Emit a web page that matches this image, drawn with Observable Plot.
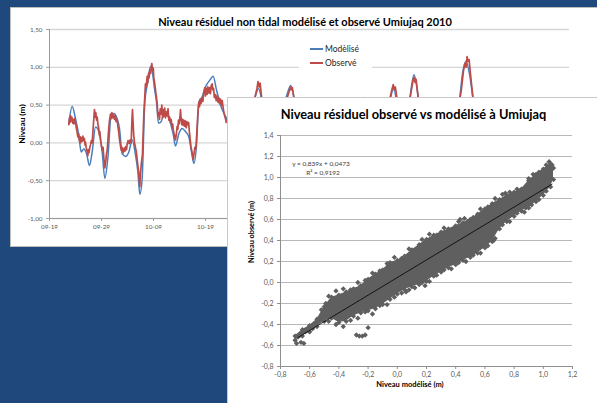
<!DOCTYPE html>
<html><head><meta charset="utf-8">
<script src="https://cdn.jsdelivr.net/npm/d3@7"></script>
<script src="https://cdn.jsdelivr.net/npm/@observablehq/plot@0.6"></script>
<style>
html,body{margin:0;padding:0;}
body{width:597px;height:403px;background:#1f497d;position:relative;overflow:hidden;font-family:Lato,"Open Sans",sans-serif;}
.panel{position:absolute;background:#fff;}
#p1{left:11px;top:8px;width:600px;height:238px;outline:1px solid #bdbdbd;}
#p2{left:228px;top:98px;width:380px;height:320px;outline:1.5px solid #c9c9c9;}
.panel svg{position:absolute;left:0;top:0;}
.t{position:absolute;white-space:nowrap;line-height:1;color:#000;}
.leg{position:absolute;background:#fff;}
.sw{position:absolute;height:2px;width:13px;}
</style>
</head><body>
<div id="p1" class="panel"></div>
<div id="p2" class="panel"></div>
<script>
// ---------- DATA ----------
const title1 = "Niveau résiduel non tidal modélisé et observé Umiujaq 2010";
const title2 = "Niveau résiduel observé vs modélisé à Umiujaq";
const seriesNames = ["Modèlisé", "Observé"];
const seriesColors = ["#4a7ebb", "#be4b48"];
const yLabel1 = "Niveau (m)";
const xLabel2 = "Niveau  modélisé (m)";
const yLabel2 = "Niveau observé (m)";
const equationText = ["y = 0,839x + 0,0473", "R² = 0,9192"];
const trendSlope = 0.839, trendIntercept = 0.0473;

const startDay = "2010-09-19";
const xTickDates = ["2010-09-19","2010-09-29","2010-10-09","2010-10-19","2010-10-29","2010-11-08","2010-11-18","2010-11-28","2010-12-08","2010-12-18","2010-12-28"];
const yTicks1 = [-1, -0.5, 0, 0.5, 1, 1.5];

// [days since 2010-09-19, level (m)]
const modelled = [
[3.72,0.26],[4.36,0.48],[5.0,0.32],[5.64,0.10],[6.09,-0.12],[6.6,-0.08],[7.12,-0.14],[7.69,-0.30],[8.21,-0.12],[8.85,0.21],
[9.49,0.15],[10.13,-0.12],[10.64,-0.47],[11.22,-0.20],[11.86,0.37],[12.37,0.39],[13.01,0.32],[13.46,0.19],[13.97,-0.14],[14.62,-0.18],
[15.26,-0.12],[15.9,0.04],[16.54,-0.16],[16.99,-0.38],[17.37,-0.68],[17.82,-0.47],[18.33,0.54],[18.91,0.81],[19.42,1.01],[19.74,0.96],
[20.19,0.72],[20.58,0.54],[20.96,0.26],[21.47,0.28],[21.99,0.39],[22.63,0.37],[23.27,0.26],[23.78,0.12],[24.23,-0.04],[24.87,0.12],
[25.51,0.19],[26.15,0.15],[26.79,0.08],[27.31,-0.12],[27.76,-0.27],[28.27,-0.03],[28.72,0.54],[29.36,0.61],[30.0,0.74],[30.83,0.83],
[31.47,0.88],[32.12,0.70],[32.88,0.50],[33.85,0.35],[34.49,0.26],
[36,0.05],[38,0.30],[39.5,0.60],[40.2,0.72],[41,0.50],[42.5,0.10],[44,0.30],[45.5,0.60],[46.4,0.76],[47.3,0.50],
[49,0.10],[51,0.20],[53,0.35],[54.6,0.52],[56,0.20],[58,0.10],[59.6,0.45],[60.4,0.60],[61.2,0.40],[63,0.00],
[65,0.40],[66.2,0.72],[67.2,0.40],[69,0.50],[70.1,0.90],[71.2,0.50],[73,0.30],[74.6,0.60],[75.6,0.30],[77.5,0.20],
[78.8,0.55],[79.5,0.95],[80.1,1.08],[80.8,0.90],[81.6,0.50],[83,0.10],[86,0.20],[90,-0.10],[94,0.20],[97,0.10],[99,0.15]
];
const observed = [
[3.72,0.24],[3.85,0.33],[3.95,0.27],[4.04,0.36],[4.15,0.29],[4.3,0.34],[4.45,0.26],[4.55,0.31],[4.7,0.25],[4.85,0.32],
[5.0,0.28],[5.15,0.20],[5.3,0.15],[5.45,0.08],[5.6,0.12],[5.75,0.03],[5.9,0.08],[5.96,0.00],[6.1,0.07],[6.25,0.02],
[6.41,0.09],[6.55,0.03],[6.7,0.06],[6.85,-0.03],[6.92,0.01],[7.05,-0.06],[7.2,-0.10],[7.37,-0.17],[7.5,-0.09],[7.6,-0.13],
[7.76,-0.06],[7.9,-0.02],[8.05,0.03],[8.21,0.00],[8.35,0.15],[8.5,0.30],[8.65,0.44],[8.75,0.34],[8.9,0.40],[9.05,0.30],
[9.17,0.34],[9.3,0.25],[9.45,0.20],[9.6,0.10],[9.68,0.15],[9.85,0.02],[10.0,-0.04],[10.15,-0.10],[10.3,-0.06],[10.45,-0.20],
[10.64,-0.33],[10.8,-0.25],[10.95,-0.15],[11.09,-0.10],[11.25,0.05],[11.4,0.20],[11.55,0.30],[11.73,0.38],[11.85,0.32],[12.0,0.40],
[12.15,0.33],[12.37,0.37],[12.5,0.31],[12.65,0.36],[12.8,0.28],[13.01,0.31],[13.15,0.22],[13.3,0.15],[13.45,0.05],[13.65,-0.04],
[13.8,-0.10],[13.95,-0.06],[14.17,-0.13],[14.35,-0.07],[14.5,-0.11],[14.65,-0.05],[14.81,-0.09],[14.95,-0.01],[15.1,0.03],[15.32,-0.01],
[15.5,0.04],[15.71,0.00],[15.85,0.30],[15.96,0.44],[16.05,0.30],[16.2,0.10],[16.35,0.00],[16.5,-0.05],[16.7,-0.12],[16.86,-0.22],
[17.0,-0.30],[17.2,-0.42],[17.37,-0.58],[17.5,-0.40],[17.65,-0.28],[17.88,-0.15],[18.0,0.10],[18.15,0.40],[18.33,0.62],[18.45,0.78],
[18.6,0.74],[18.78,0.88],[18.9,0.80],[19.05,0.92],[19.15,0.86],[19.29,0.97],[19.45,0.92],[19.6,1.02],[19.68,1.05],[19.8,0.96],
[19.95,0.99],[20.06,0.86],[20.2,0.80],[20.35,0.72],[20.45,0.66],[20.58,0.60],[20.7,0.52],[20.85,0.36],[21.03,0.40],[21.15,0.31],
[21.3,0.45],[21.47,0.38],[21.6,0.50],[21.75,0.33],[21.9,0.44],[21.99,0.35],[22.15,0.46],[22.3,0.33],[22.45,0.41],[22.63,0.36],
[22.8,0.45],[22.95,0.30],[23.1,0.34],[23.27,0.27],[23.4,0.31],[23.55,0.20],[23.7,0.25],[23.78,0.18],[23.95,0.12],[24.1,0.08],
[24.23,0.04],[24.4,0.12],[24.55,0.22],[24.68,0.18],[24.8,0.30],[24.95,0.25],[25.1,0.35],[25.19,0.44],[25.3,0.33],[25.45,0.24],
[25.6,0.31],[25.71,0.23],[25.85,0.30],[26.0,0.22],[26.15,0.29],[26.3,0.20],[26.45,0.28],[26.6,0.24],[26.75,0.27],[26.9,0.15],
[27.05,0.05],[27.2,-0.05],[27.35,-0.10],[27.5,-0.16],[27.63,-0.22],[27.8,-0.14],[27.95,-0.06],[28.14,-0.08],[28.3,0.10],[28.5,0.35],
[28.72,0.54],[28.85,0.48],[29.0,0.58],[29.15,0.52],[29.36,0.60],[29.5,0.55],[29.65,0.66],[29.87,0.73],[30.0,0.62],[30.15,0.72],
[30.3,0.64],[30.45,0.74],[30.64,0.66],[30.8,0.73],[30.95,0.65],[31.1,0.76],[31.28,0.78],[31.4,0.70],[31.55,0.72],[31.7,0.60],
[31.92,0.64],[32.05,0.56],[32.2,0.62],[32.4,0.54],[32.56,0.60],[32.7,0.52],[32.9,0.58],[33.05,0.50],[33.21,0.56],[33.4,0.46],
[33.6,0.38],[33.85,0.32],[34.0,0.27],[34.2,0.30],[34.49,0.22],
[34.8,0.15],[35.5,0.05],[37,0.25],[38.5,0.45],[39.5,0.60],[39.9,0.72],[40.1,0.81],[40.3,0.74],[40.5,0.79],[40.8,0.60],
[41.3,0.45],[42.5,0.15],[44,0.30],[45.5,0.55],[46.0,0.66],[46.3,0.74],[46.5,0.70],[46.7,0.73],[47.1,0.55],[48,0.25],
[50,0.10],[52,0.30],[53.8,0.45],[54.4,0.57],[54.6,0.52],[54.8,0.58],[55.2,0.40],[57,0.15],[59,0.35],[60.2,0.55],
[60.5,0.57],[60.8,0.45],[62,0.10],[64,0.35],[65.5,0.60],[65.9,0.72],[66.1,0.77],[66.3,0.70],[66.5,0.74],[66.9,0.55],
[67.5,0.40],[69,0.45],[69.6,0.70],[69.9,0.82],[70.1,0.87],[70.3,0.80],[70.5,0.84],[70.9,0.60],[71.5,0.45],[73,0.30],
[74.4,0.50],[74.7,0.56],[75,0.45],[76.5,0.20],[78.5,0.40],[79.2,0.70],[79.6,0.95],[79.9,1.05],[80.1,1.00],[80.3,1.14],
[80.5,1.08],[80.7,1.10],[80.9,0.95],[81.2,0.75],[81.6,0.50],[83,0.15],[86,0.25],[90,-0.05],[94,0.25],[97,0.10],[99,0.15]
];

// scatter: observed vs modelled point cloud, read as envelope + individual markers
const xTicks2 = [-0.8,-0.6,-0.4,-0.2,0,0.2,0.4,0.6,0.8,1.0,1.2];
const yTicks2 = [-0.8,-0.6,-0.4,-0.2,0,0.2,0.4,0.6,0.8,1.0,1.2,1.4];
const envX    = [-0.70,-0.65,-0.60,-0.55,-0.50,-0.45,-0.40,-0.35,-0.30,-0.25,-0.20,-0.15,-0.10,-0.05,0.00,0.05,0.10,0.15,0.20,0.25,0.30,0.35,0.40,0.45,0.50,0.55,0.60,0.65,0.70,0.75,0.80,0.85,0.90,0.95,1.00,1.05,1.07];
const envLow  = [-0.55,-0.51,-0.47,-0.42,-0.37,-0.34,-0.38,-0.37,-0.32,-0.29,-0.27,-0.25,-0.21,-0.16,-0.11,-0.07,-0.04,-0.02,0.01,0.06,0.10,0.14,0.17,0.21,0.24,0.28,0.33,0.39,0.51,0.58,0.63,0.68,0.71,0.77,0.83,0.91,0.98];
const envHigh = [-0.51,-0.45,-0.41,-0.35,-0.23,-0.14,-0.12,-0.09,-0.06,-0.03,0.03,0.08,0.12,0.19,0.21,0.25,0.31,0.36,0.41,0.45,0.48,0.51,0.54,0.57,0.60,0.65,0.70,0.75,0.79,0.83,0.86,0.89,0.97,1.03,1.08,1.13,1.09];
const outX = [-0.69,-0.66,-0.64,-0.68,-0.66,-0.63,-0.61,-0.58,-0.28,-0.26,-0.24,-0.22,-0.20,0.43,0.46,0.48,0.90,0.93,0.77,0.74,0.19,0.06,-0.49,0.88,0.66,1.04,1.06,
  -0.52,-0.47,-0.42,-0.37,-0.32,-0.27,-0.22,-0.17,-0.12,-0.07,-0.02,0.03,0.08,0.12,0.17,0.22,0.27,0.32,0.37,0.42,0.52,0.57,0.62,0.67,0.72,0.77,0.82,0.87,0.97,1.02,
  -0.47,-0.42,-0.37,-0.32,-0.27,-0.22,-0.17,-0.12,-0.07,-0.02,0.03,0.08,0.12,0.17,0.22,0.27,0.32,0.37,0.42,0.47,0.52,0.57,0.62,0.67,0.72,0.77,0.82,0.87,0.92,0.97,1.02];
const outY = [-0.58,-0.57,-0.58,-0.52,-0.50,-0.47,-0.46,-0.44,-0.50,-0.51,-0.51,-0.50,-0.43,0.60,0.61,0.58,0.99,1.03,0.86,0.85,-0.03,-0.09,-0.20,0.71,0.40,1.15,1.12,
  -0.26,-0.13,-0.08,-0.06,-0.07,0.00,0.02,0.09,0.11,0.18,0.24,0.23,0.32,0.30,0.41,0.46,0.45,0.52,0.50,0.58,0.62,0.70,0.72,0.80,0.84,0.82,0.89,0.89,1.05,1.12,
  -0.37,-0.40,-0.42,-0.36,-0.34,-0.28,-0.30,-0.22,-0.21,-0.14,-0.10,-0.07,-0.05,0.00,0.01,0.07,0.12,0.13,0.19,0.20,0.26,0.28,0.35,0.42,0.55,0.58,0.66,0.67,0.74,0.79,0.87];
const trendX = [-0.68, 1.06];

// ---------- HELPERS ----------
const t0 = new Date(startDay + "T00:00:00Z").getTime();
const toDate = d => new Date(t0 + d * 864e5);
const commaFmt = p => v => d3.format(`.${p}f`)(v).replace(".", ",").replace("\u2212", "-");
const grey = "#595959";

// ---------- LINE CHART ----------
const chart1 = Plot.plot({
  width: 586, height: 238,
  marginLeft: 38, marginRight: 28, marginTop: 21, marginBottom: 28,
  style: {fontFamily: "Lato, sans-serif", background: "transparent", overflow: "visible"},
  x: {type: "utc", domain: [toDate(0), toDate(100)]},
  y: {domain: [-1, 1.5]},
  marks: [
    Plot.gridY(yTicks1, {stroke: "#d6d6d6", strokeOpacity: 1, strokeWidth: 1.3}),
    Plot.ruleX([toDate(0)], {stroke: "#9c9c9c"}),
    Plot.ruleY([-1], {stroke: "#9c9c9c"}),
    Plot.axisY(yTicks1, {tickFormat: commaFmt(2), tickSize: 3, tickPadding: 4, fontSize: 6.3, fill: grey, stroke: "#9c9c9c", label: null}),
    Plot.axisX(xTickDates.map(s => new Date(s + "T00:00:00Z")), {tickFormat: d3.utcFormat("%m-%d"), tickSize: 3, tickPadding: 3, fontSize: 6.3, fill: grey, stroke: "#9c9c9c", label: null}),
    Plot.line(modelled, {x: d => toDate(d[0]), y: d => d[1], stroke: seriesColors[0], strokeWidth: 1.5, curve: "monotone-x"}),
    Plot.line(observed, {x: d => toDate(d[0]), y: d => d[1], stroke: seriesColors[1], strokeWidth: 1.7})
  ]
});
document.getElementById("p1").appendChild(chart1);

// ---------- SCATTER ----------
const env = envX.map((x, i) => ({x, lo: envLow[i], hi: envHigh[i]}));
const edgePts = env.flatMap(d => [{x: d.x, y: d.lo}, {x: d.x, y: d.hi}]);
const outPts = outX.map((x, i) => ({x, y: outY[i]}));
const trend = trendX.map(x => ({x, y: trendSlope * x + trendIntercept}));
const dotGrey = "#5f5f5f";

const chart2 = Plot.plot({
  width: 369, height: 305,
  marginLeft: 52, marginRight: 25, marginTop: 37, marginBottom: 37,
  style: {fontFamily: "Lato, sans-serif", background: "transparent", overflow: "visible"},
  x: {domain: [-0.8, 1.2]},
  y: {domain: [-0.8, 1.4]},
  marks: [
    Plot.gridY(yTicks2.slice(1), {stroke: "#b8b8b8", strokeOpacity: 1, strokeWidth: 1}),
    Plot.ruleX([-0.8], {stroke: "#8e8e8e"}),
    Plot.ruleY([-0.8], {stroke: "#8e8e8e"}),
    Plot.axisY(yTicks2, {tickFormat: commaFmt(1), tickSize: 3, tickPadding: 4, fontSize: 7, fill: grey, stroke: "#8e8e8e", label: null}),
    Plot.axisX(xTicks2, {tickFormat: commaFmt(1), tickSize: 3, tickPadding: 3, fontSize: 7, fill: grey, stroke: "#8e8e8e", label: null}),
    Plot.areaY(env, {x: "x", y1: "lo", y2: "hi", fill: dotGrey}),
    Plot.dot(edgePts, {x: "x", y: "y", symbol: "diamond2", r: 2.4, fill: dotGrey}),
    Plot.dot(outPts, {x: "x", y: "y", symbol: "diamond2", r: 2.4, fill: dotGrey}),
    Plot.line(trend, {x: "x", y: "y", stroke: "#000", strokeWidth: 0.8})
  ]
});
document.getElementById("p2").appendChild(chart2);

// ---------- TEXT OVERLAYS ----------
function addText(txt, x, y, o = {}) {
  const el = document.createElement("div");
  el.className = "t";
  el.textContent = txt;
  el.style.left = x + "px";
  el.style.top = y + "px";
  el.style.fontSize = (o.size || 8) + "px";
  el.style.fontWeight = o.bold ? "700" : "400";
  if (o.color) el.style.color = o.color;
  const ax = o.anchor === "start" ? "0" : "-50%";
  el.style.transform = o.rotate ? "translate(-50%,-50%) rotate(-90deg)" : `translate(${ax}, -50%)`;
  document.body.appendChild(el);
  return el;
}

addText(title1, 305, 20.5, {size: 11, bold: true});
addText(yLabel1, 22, 124, {size: 8.3, bold: true, rotate: true});
const leg = document.createElement("div");
leg.className = "leg";
Object.assign(leg.style, {left: "299px", top: "40px", width: "73px", height: "30px"});
document.body.appendChild(leg);
seriesNames.forEach((name, i) => {
  const sw = document.createElement("div");
  sw.className = "sw";
  Object.assign(sw.style, {left: "310px", top: (47.5 + i * 14.5) + "px", background: seriesColors[i]});
  document.body.appendChild(sw);
  addText(name, 325, 48.5 + i * 14.5, {size: 8.5, anchor: "start", color: "#262626"});
});

const p2 = document.getElementById("p2");
p2.style.zIndex = 5;
function addText2(txt, x, y, o) { const el = addText(txt, x, y, o); el.style.zIndex = 6; return el; }
addText2(title2, 413.5, 114, {size: 12.8, bold: true});
addText2(xLabel2, 410, 385, {size: 7.5, bold: true});
addText2(yLabel2, 252, 232, {size: 7.3, bold: true, rotate: true});
addText2(equationText[0], 321, 164, {size: 6.5, color: "#404040"});
addText2(equationText[1], 323, 172.5, {size: 6.5, color: "#404040"});
</script>
</body></html>
